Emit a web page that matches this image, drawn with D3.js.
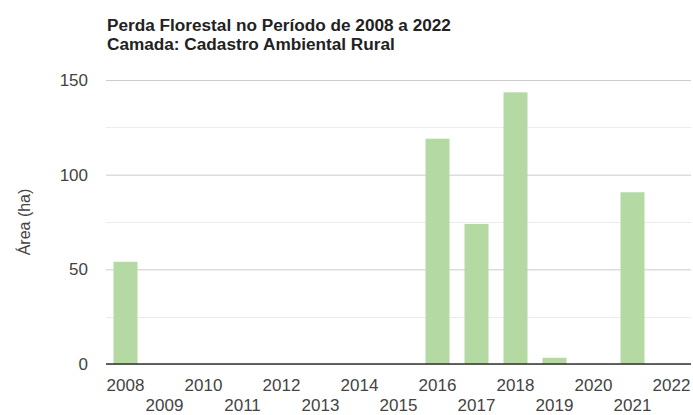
<!DOCTYPE html>
<html>
<head>
<meta charset="utf-8">
<script src="https://cdn.jsdelivr.net/npm/d3@7"></script>
<style>
  html, body { margin: 0; padding: 0; background: #fff; }
  svg { display: block; font-family: "Liberation Sans", Arial, sans-serif; }
</style>
</head>
<body>
<svg id="chart" width="693" height="415"></svg>
<script>
// Forest loss per year (hectares)
const years = ["2008","2009","2010","2011","2012","2013","2014","2015","2016","2017","2018","2019","2020","2021","2022"];
const areaHa = [54, 0, 0, 0, 0, 0, 0, 0, 119, 74, 143.5, 3.3, 0, 90.7, 0];
const yTicks = [0, 50, 100, 150];
const yMinorTicks = [25, 75, 125];
const titleLines = ["Perda Florestal no Período de 2008 a 2022", "Camada: Cadastro Ambiental Rural"];
const yTitle = "Área (ha)";

const svg = d3.select("#chart");
const margin = { left: 106, right: 2, top: 80, bottom: 51 };
const W = 693, H = 415;

const x = d3.scaleBand()
  .domain(years)
  .range([margin.left, W - margin.right])
  .paddingInner(0.385)
  .paddingOuter(0.1925);

const y = d3.scaleLinear()
  .domain([0, 150])
  .range([H - margin.bottom, margin.top]);

// Title
svg.append("g").selectAll("text")
  .data(titleLines)
  .join("text")
  .attr("x", 107)
  .attr("y", (d, i) => 31 + i * 18.5)
  .attr("font-size", 17.2)
  .attr("font-weight", "bold")
  .attr("fill", "#222")
  .text(d => d);

// Minor gridlines
svg.append("g").selectAll("line")
  .data(yMinorTicks)
  .join("line")
  .attr("x1", margin.left).attr("x2", W - margin.right)
  .attr("y1", d => Math.round(y(d)) + 0.5).attr("y2", d => Math.round(y(d)) + 0.5)
  .attr("stroke", "#ececec").attr("stroke-width", 1);

// Y axis with major gridlines
const yAxis = svg.append("g")
  .attr("transform", `translate(${margin.left},0)`)
  .call(d3.axisLeft(y).tickValues(yTicks).tickSize(-(W - margin.right - margin.left)).tickPadding(18));
yAxis.select(".domain").remove();
yAxis.selectAll(".tick line").attr("stroke", "#cccccc");
yAxis.selectAll(".tick text")
  .attr("font-size", 17)
  .attr("font-family", "Liberation Sans, Arial, sans-serif")
  .attr("fill", "#444");

// Bars
svg.append("g").selectAll("rect")
  .data(years.map((yr, i) => ({ yr, v: areaHa[i] })).filter(d => d.v > 0))
  .join("rect")
  .attr("x", d => x(d.yr))
  .attr("width", x.bandwidth())
  .attr("y", d => y(d.v))
  .attr("height", d => y(0) - y(d.v))
  .attr("fill", "#b4d9a3");

// Baseline
svg.append("line")
  .attr("x1", margin.left).attr("x2", W - margin.right)
  .attr("y1", y(0)).attr("y2", y(0))
  .attr("stroke", "#333").attr("stroke-width", 1.5);

// X axis labels, staggered over two rows
const xAxis = svg.append("g")
  .attr("transform", `translate(0,${y(0)})`)
  .call(d3.axisBottom(x).tickSize(0).tickPadding(0));
xAxis.select(".domain").remove();
xAxis.selectAll(".tick text")
  .attr("font-size", 17)
  .attr("font-family", "Liberation Sans, Arial, sans-serif")
  .attr("fill", "#444")
  .attr("dy", null)
  .attr("y", (d, i) => i % 2 === 0 ? 27 : 47);

// Y axis title
svg.append("text")
  .attr("transform", `translate(30,${(y(0) + y(150)) / 2}) rotate(-90)`)
  .attr("text-anchor", "middle")
  .attr("font-size", 16)
  .attr("fill", "#444")
  .text(yTitle);
</script>
</body>
</html>
